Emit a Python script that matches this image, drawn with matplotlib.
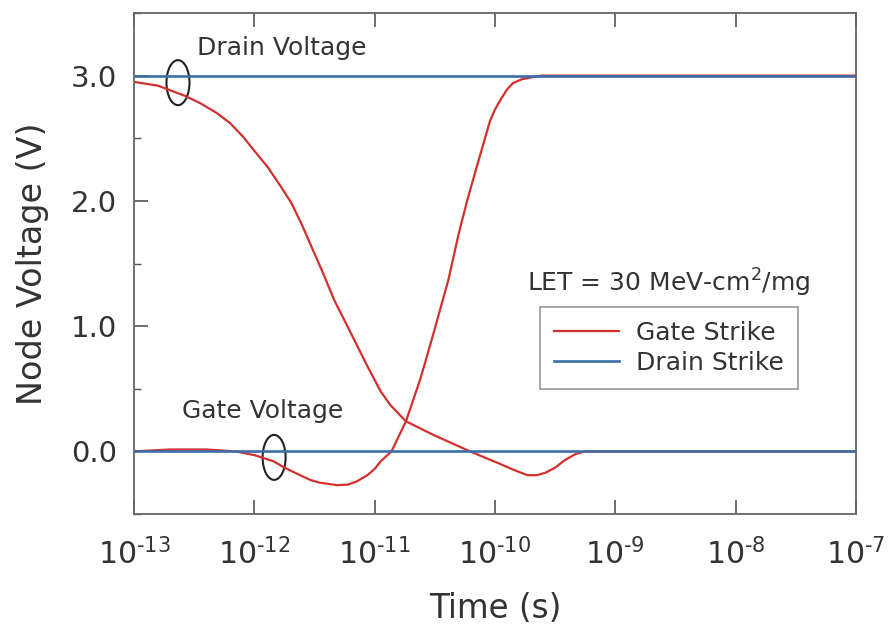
import matplotlib
matplotlib.use("Agg")
import matplotlib.pyplot as plt
import matplotlib.ticker as mticker
from matplotlib.patches import Ellipse
from matplotlib.transforms import ScaledTranslation

# ── data ───────────────────────────────────────────────────────────────────
# gate strike: drain node voltage (red, falling curve)
t_drain_gate = [1e-13, 1.58e-13, 2.63e-13, 3.55e-13, 4.9e-13, 6.3e-13, 8.1e-13,
                1e-12, 1.29e-12, 1.62e-12, 2.04e-12, 2.51e-12, 3.16e-12, 3.7e-12,
                4.6e-12, 6.3e-12, 8.7e-12, 1.12e-11, 1.35e-11, 1.62e-11, 1.82e-11,
                3.1e-11, 6.2e-11, 1.1e-10, 1.41e-10, 1.86e-10, 2.24e-10, 2.63e-10,
                3.16e-10, 3.8e-10, 4.7e-10, 5.6e-10, 1e-7]
v_drain_gate = [2.95, 2.92, 2.84, 2.78, 2.70, 2.62, 2.51,
                2.40, 2.27, 2.13, 1.98, 1.80, 1.58, 1.43,
                1.21, 0.95, 0.68, 0.48, 0.37, 0.29, 0.24,
                0.13, 0.0, -0.10, -0.145, -0.19, -0.19, -0.17,
                -0.13, -0.07, -0.02, 0.0, 0.0]

# gate strike: gate node voltage (red, dip then rise)
t_gate_gate = [1e-13, 2e-13, 4e-13, 7e-13, 1e-12, 1.45e-12, 1.78e-12, 2.4e-12,
               2.95e-12, 3.5e-12, 4.9e-12, 6.0e-12, 7.1e-12, 8.7e-12, 1e-11,
               1.12e-11, 1.38e-11, 1.82e-11, 2.4e-11, 3.1e-11, 4.1e-11,
               5.0e-11, 5.9e-11, 7.6e-11, 9.1e-11, 1e-10, 1.1e-10, 1.26e-10,
               1.41e-10, 1.66e-10, 1.86e-10, 2.4e-10, 1e-7]
v_gate_gate = [0.0, 0.015, 0.015, 0.0, -0.03, -0.08, -0.13, -0.19,
               -0.23, -0.25, -0.27, -0.265, -0.24, -0.19, -0.14,
               -0.08, 0.0, 0.24, 0.58, 0.95, 1.37,
               1.74, 2.01, 2.38, 2.64, 2.73, 2.80, 2.89,
               2.94, 2.97, 2.98, 3.0, 3.0]

# drain strike: both nodes stay put (blue)
t_drain_strike = [1e-13, 1e-7]
v_drain_drain = [3.0, 3.0]
v_gate_drain = [0.0, 0.0]

x_ticks = [1e-13, 1e-12, 1e-11, 1e-10, 1e-9, 1e-8, 1e-7]
x_tick_labels = ["$10^{\u201013}$", "$10^{\u201012}$", "$10^{\u201011}$",
                 "$10^{\u201010}$", "$10^{\u20109}$", "$10^{\u20108}$",
                 "$10^{\u20107}$"]
y_ticks = [0.0, 1.0, 2.0, 3.0]

RED = "#d2302e"
BLUE = "#3c6da8"
TXT = "#333333"

plt.rcParams["font.family"] = ["DejaVu Sans"]
plt.rcParams["mathtext.default"] = "regular"

fig = plt.figure(figsize=(8.89, 6.31), dpi=100)
ax = fig.add_axes([134 / 889, 117 / 631, 722 / 889, 501 / 631])

ax.plot(t_drain_gate, v_drain_gate, color=RED, lw=1.6, label="Gate Strike")
ax.plot(t_gate_gate, v_gate_gate, color=RED, lw=1.6)
ax.plot(t_drain_strike, v_drain_drain, color=BLUE, lw=1.9, label="Drain Strike")
ax.plot(t_drain_strike, v_gate_drain, color=BLUE, lw=1.9)

ax.set_xscale("log")
ax.set_xlim(1e-13, 1e-7)
ax.set_ylim(-0.5, 3.5)

ax.xaxis.set_major_locator(mticker.FixedLocator(x_ticks))
ax.xaxis.set_minor_locator(mticker.NullLocator())
ax.set_xticks(x_ticks)
ax.set_xticklabels(x_tick_labels)
ax.set_yticks(y_ticks)
ax.yaxis.set_major_formatter(mticker.FormatStrFormatter("%.1f"))
ax.yaxis.set_minor_locator(mticker.MultipleLocator(0.5))

ax.tick_params(axis="both", which="major", direction="in", length=10, width=1.2,
               color="#555555", labelsize=21, labelcolor=TXT)
ax.tick_params(axis="x", which="major", top=True, pad=17, labelsize=21.5)
ax.tick_params(axis="y", which="major", pad=12)
ax.tick_params(axis="y", which="minor", direction="in", length=5, width=1.0,
               color="#555555")
for sp in ax.spines.values():
    sp.set_color("#666666")
    sp.set_linewidth(1.3)

ax.set_xlabel("Time (s)", fontsize=23.5, color=TXT, labelpad=16)
ax.set_ylabel("Node Voltage (V)", fontsize=24, color=TXT, labelpad=16)

# annotations
ax.text(0.0873, 0.930, "Drain Voltage", transform=ax.transAxes, fontsize=18,
        color=TXT, va="center", ha="left")
ax.text(0.0665, 0.2056, "Gate Voltage", transform=ax.transAxes, fontsize=18,
        color=TXT, va="center", ha="left")
ax.text(0.544, 0.461, r"LET = 30 MeV-cm$^2$/mg", transform=ax.transAxes,
        fontsize=18, color=TXT, va="center", ha="left")

for xc, yc in [(2.32e-13, 2.944), (1.46e-12, -0.048)]:
    ell = Ellipse((0, 0), 0.23, 0.45, fill=False, lw=1.5, ec="#222222",
                  transform=fig.dpi_scale_trans + ScaledTranslation(xc, yc, ax.transData))
    ax.add_artist(ell)

leg = ax.legend(loc="upper left", bbox_to_anchor=(0.562, 0.413), borderaxespad=0,
                fontsize=18, frameon=True, fancybox=False, handlelength=2.6,
                handletextpad=0.7, labelspacing=0.25, borderpad=0.55)
leg.get_frame().set_edgecolor("#888888")
leg.get_frame().set_linewidth(1.3)
for t in leg.get_texts():
    t.set_color(TXT)

fig.savefig("out.png", dpi=100)
